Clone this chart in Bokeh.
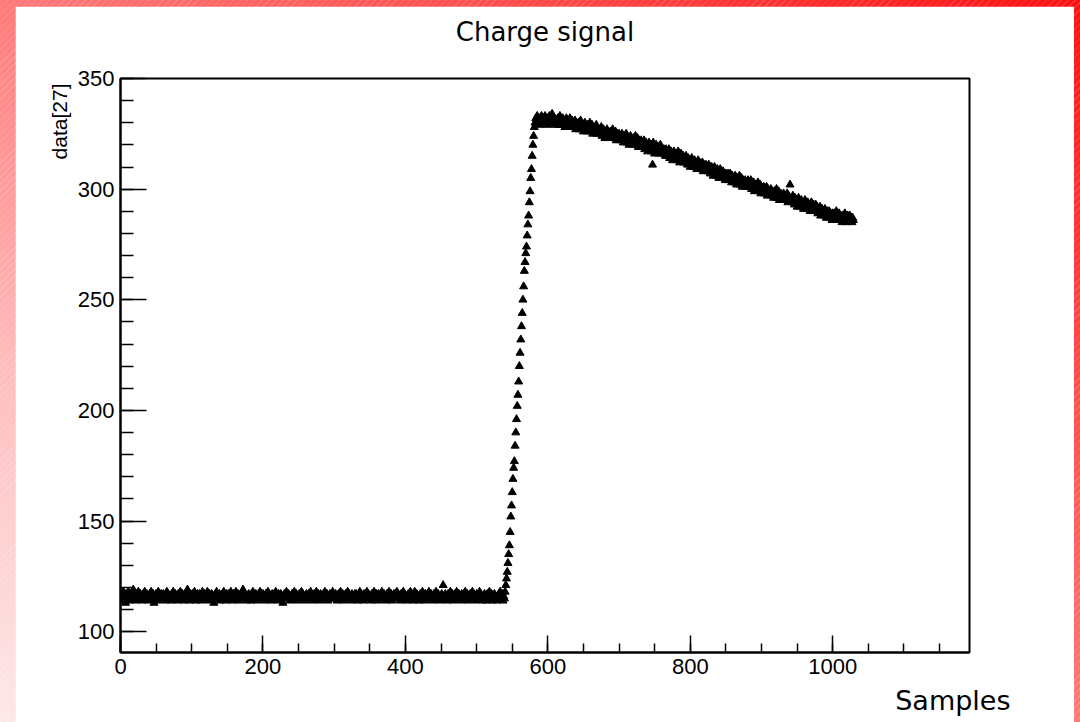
from bokeh.plotting import figure
from bokeh.models import Range1d, SingleIntervalTicker, FixedTicker, Title, LinearAxis
from bokeh.embed import file_html
from bokeh.resources import INLINE

# ---------------- data (ADC counts of channel 27, one per sample) ----------------
baseline_values = [
    115, 117, 114, 116, 118, 115, 116, 113, 117, 116, 115, 118, 116, 114, 117, 116, 115, 117, 119, 116, 115, 114, 116, 117, 115, 118, 116, 115, 117, 116,
    114, 116, 117, 115, 118, 116, 115, 117, 116, 114, 115, 117, 116, 118, 115, 116, 117, 113, 116, 115, 117, 116, 114, 118, 116, 115, 116, 117, 115, 116,
    117, 115, 116, 114, 116, 118, 115, 117, 116, 115, 116, 114, 117, 116, 118, 115, 116, 117, 115, 116, 114, 117, 115, 116, 118, 116, 115, 117, 116, 114,
    116, 117, 115, 116, 119, 115, 116, 114, 117, 116, 115, 117, 116, 115, 118, 116, 114, 116, 117, 115, 116, 117, 115, 114, 116, 118, 116, 115, 117, 116,
    115, 116, 118, 116, 114, 117, 115, 116, 117, 116, 115, 113, 116, 117, 115, 118, 116, 115, 116, 117, 114, 116, 115, 117, 116, 118, 115, 116, 114, 117,
    116, 115, 117, 116, 115, 118, 116, 114, 116, 117, 115, 116, 118, 115, 116, 117, 114, 116, 115, 117, 116, 115, 119, 116, 115, 117, 116, 114, 116, 115,
    117, 116, 115, 114, 117, 116, 118, 115, 116, 115, 117, 116, 114, 116, 117, 115, 118, 116, 115, 116, 117, 115, 116, 114, 117, 116, 115, 118, 116, 117,
    115, 116, 114, 117, 116, 115, 117, 116, 118, 115, 116, 114, 117, 115, 116, 117, 116, 115, 113, 116, 117, 116, 115, 118, 116, 115, 117, 116, 114, 116,
    116, 117, 115, 116, 118, 116, 115, 117, 114, 116, 115, 117, 116, 115, 118, 116, 117, 115, 116, 114, 116, 117, 115, 116, 117, 115, 116, 118, 115, 116,
    114, 116, 117, 115, 116, 118, 115, 116, 117, 116, 114, 117, 115, 116, 115, 117, 116, 118, 115, 116, 117, 114, 116, 115, 117, 116, 115, 116, 118, 115,
    116, 115, 117, 116, 114, 116, 117, 115, 116, 118, 116, 115, 117, 114, 116, 115, 117, 116, 115, 118, 116, 117, 115, 116, 114, 117, 116, 115, 116, 117,
    115, 117, 116, 114, 116, 115, 118, 116, 117, 115, 116, 114, 117, 116, 115, 116, 118, 115, 117, 116, 115, 116, 114, 117, 116, 115, 118, 116, 115, 117,
    116, 114, 117, 115, 116, 117, 115, 118, 116, 115, 117, 116, 114, 116, 117, 115, 116, 118, 116, 115, 117, 114, 116, 115, 117, 116, 116, 115, 118, 116,
    117, 115, 116, 114, 117, 116, 115, 118, 116, 117, 115, 116, 114, 116, 117, 115, 116, 118, 115, 117, 116, 114, 116, 118, 115, 116, 117, 115, 116, 114,
    116, 117, 115, 116, 118, 115, 116, 114, 117, 116, 115, 117, 116, 118, 115, 116, 117, 115, 114, 116, 117, 115, 116, 118, 116, 115, 117, 116, 114, 116,
    115, 117, 116, 121, 116, 115, 117, 116, 114, 116, 117, 115, 116, 118, 115, 116, 117, 114, 116, 115, 117, 116, 118, 115, 116, 117, 115, 116, 114, 117,
    116, 115, 117, 116, 118, 115, 116, 117, 114, 116, 115, 117, 116, 115, 118, 116, 117, 115, 116, 114, 117, 116, 115, 116, 118, 115, 117, 116, 115, 114,
    116, 117, 115, 116, 114, 117, 116, 115, 118, 116, 115, 117, 114, 116, 115, 117, 116, 115, 114, 116, 115, 117, 116, 118, 115, 116, 117, 114, 116, 115,
]

rise_values = [
    118, 121, 124, 127, 131, 135, 139, 145, 152, 157, 163, 169, 174, 177, 184,
    190, 196, 202, 207, 213, 220, 226, 232, 238, 244, 250, 256, 263, 267, 271,
    274, 279, 284, 288, 294, 299, 305, 309, 315, 320, 324, 328,
]

decay_values = [
    330, 332, 331, 333, 330, 332, 331, 329, 332, 333, 331, 330, 332, 331, 333, 330, 331, 332, 329, 331, 333, 332, 330, 331, 334, 331, 330, 332, 331, 329,
    331, 330, 332, 329, 331, 333, 330, 331, 329, 332, 330, 331, 328, 330, 332, 329, 331, 330, 328, 332, 329, 330, 331, 328, 330, 329, 331, 327, 330, 329,
    328, 330, 327, 329, 331, 328, 327, 329, 326, 328, 330, 327, 328, 326, 329, 327, 328, 330, 326, 327, 329, 325, 328, 327, 326, 328, 329, 325, 327, 326,
    327, 325, 326, 328, 324, 326, 327, 325, 323, 326, 325, 327, 324, 326, 325, 323, 326, 324, 325, 327, 323, 325, 324, 326, 322, 325, 324, 323, 325, 324,
    324, 322, 325, 323, 321, 324, 322, 323, 325, 321, 323, 322, 320, 323, 324, 321, 322, 320, 323, 321, 322, 324, 320, 321, 323, 319, 322, 321, 320, 322,
    320, 321, 319, 322, 318, 320, 321, 319, 317, 320, 321, 318, 319, 320, 317, 311, 321, 318, 316, 319, 320, 317, 318, 319, 316, 318, 320, 317, 316, 318,
    317, 318, 316, 315, 318, 317, 315, 316, 318, 314, 316, 317, 315, 313, 316, 317, 314, 315, 316, 313, 315, 317, 314, 312, 315, 316, 313, 314, 315, 312,
    314, 312, 315, 313, 311, 314, 312, 313, 310, 312, 314, 311, 312, 310, 313, 311, 312, 309, 311, 313, 310, 312, 311, 309, 310, 312, 308, 311, 310, 309,
    311, 309, 310, 308, 311, 310, 307, 309, 310, 308, 306, 309, 310, 307, 308, 306, 309, 307, 305, 308, 309, 306, 307, 305, 308, 306, 307, 304, 307, 306,
    306, 307, 305, 304, 307, 305, 303, 306, 304, 305, 303, 306, 304, 302, 305, 303, 304, 306, 302, 303, 305, 301, 304, 303, 302, 304, 301, 303, 302, 304,
    303, 301, 302, 304, 300, 302, 301, 303, 299, 301, 302, 300, 301, 303, 299, 300, 302, 298, 301, 300, 299, 301, 298, 300, 299, 301, 297, 300, 298, 299,
    299, 300, 297, 299, 298, 296, 299, 297, 298, 300, 296, 297, 299, 295, 297, 298, 296, 297, 295, 298, 296, 297, 295, 296, 298, 294, 297, 296, 302, 295,
    296, 294, 297, 295, 293, 296, 294, 295, 292, 294, 296, 293, 294, 292, 295, 293, 294, 291, 293, 295, 292, 293, 291, 294, 292, 293, 290, 292, 294, 291,
    292, 293, 291, 290, 293, 291, 292, 289, 291, 290, 292, 288, 290, 291, 289, 290, 288, 291, 289, 287, 290, 289, 288, 290, 287, 289, 288, 286, 289, 288,
    289, 287, 288, 290, 286, 288, 287, 289, 286, 288, 287, 285, 288, 286, 287, 289, 286, 287, 285, 288, 286, 287, 288, 286, 287, 285, 287, 286,
]

adc_values = baseline_values + rise_values + decay_values
sample_index = list(range(len(adc_values)))

title_text = "Charge signal"
x_title = "Samples"
y_title = "data[27]"

# ---------------- figure ----------------
p = figure(
    frame_width=849, frame_height=574,
    x_range=Range1d(0, 1192), y_range=Range1d(90.6, 350),
    output_backend="svg", toolbar_location=None,
    min_border_left=105, min_border_right=105,
    min_border_top=72, min_border_bottom=76,
)
p.background_fill_color = "white"
p.border_fill_color = "white"
p.outline_line_color = "black"
p.outline_line_width = 2
p.grid.visible = False

p.scatter(sample_index, adc_values, marker="triangle", size=8,
          fill_color="black", line_color="black", line_width=1)

# keep explicit references to the real axes
xa = p.below[0]
ya = p.left[0]

# invisible spacer axis on top (ROOT frame has no top ticks); it lifts the title
spacer = LinearAxis(ticker=FixedTicker(ticks=[600]), axis_line_color=None,
                    major_tick_in=0, major_tick_out=31, minor_tick_in=0, minor_tick_out=0,
                    major_tick_line_color=None, minor_tick_line_color=None,
                    major_label_overrides={600: ""},
                    major_label_standoff=0, major_label_text_font_size="1px")
p.add_layout(spacer, "above")

# title
p.title.text = title_text
p.title.align = "center"
p.title.offset = -2
p.title.text_font = "DejaVu Sans"
p.title.text_font_size = "26px"
p.title.text_font_style = "normal"
p.title.text_color = "black"
p.title.standoff = 2

# axes
xa.ticker = SingleIntervalTicker(interval=200, num_minor_ticks=4)
ya.ticker = SingleIntervalTicker(interval=50, num_minor_ticks=5)
for ax in (xa, ya):
    ax.axis_line_color = "black"
    ax.axis_line_width = 2
    ax.major_tick_line_color = "black"
    ax.minor_tick_line_color = "black"
    ax.major_tick_line_width = 1.5
    ax.minor_tick_line_width = 1.5
    ax.major_tick_out = 0
    ax.minor_tick_out = 0
    ax.major_label_text_font = "Liberation Sans"
    ax.major_label_text_font_size = "22px"
    ax.major_label_text_color = "black"
    ax.major_label_standoff = 6
xa.major_tick_in = 17
xa.minor_tick_in = 9
ya.major_tick_in = 26
ya.minor_tick_in = 13

# axis titles as side titles (ROOT style: aligned at the axis end)
ytitle = Title(text=y_title, align="right", offset=5, standoff=7,
               text_font="Liberation Sans", text_font_size="21px",
               text_font_style="normal", text_color="black")
p.add_layout(ytitle, "left")
xtitle = Title(text=x_title, align="right", offset=-41, standoff=13,
               text_font="DejaVu Sans", text_font_size="27px",
               text_font_style="normal", text_color="black")
p.add_layout(xtitle, "below")

TEMPLATE = """
{% block postamble %}
<style>
html, body { margin: 0 !important; height: 100% !important; overflow: hidden !important; box-sizing: border-box; }
html { padding: 0 !important; }
body {
  padding: 6px 0 0 15px !important;
  background-color: #ff6060;
  background-image:
    repeating-linear-gradient(135deg, rgba(255,255,255,0.16) 0px, rgba(255,255,255,0.16) 1px, rgba(255,255,255,0) 1px, rgba(255,255,255,0) 5px),
    linear-gradient(to bottom left, #ff1010 0%, #ff4848 25%, #ff7a7a 50%, #ffbcbc 75%, #fde8e8 100%);
}
</style>
{% endblock %}
"""

open("out.html", "w").write(file_html(p, INLINE, template=TEMPLATE))
